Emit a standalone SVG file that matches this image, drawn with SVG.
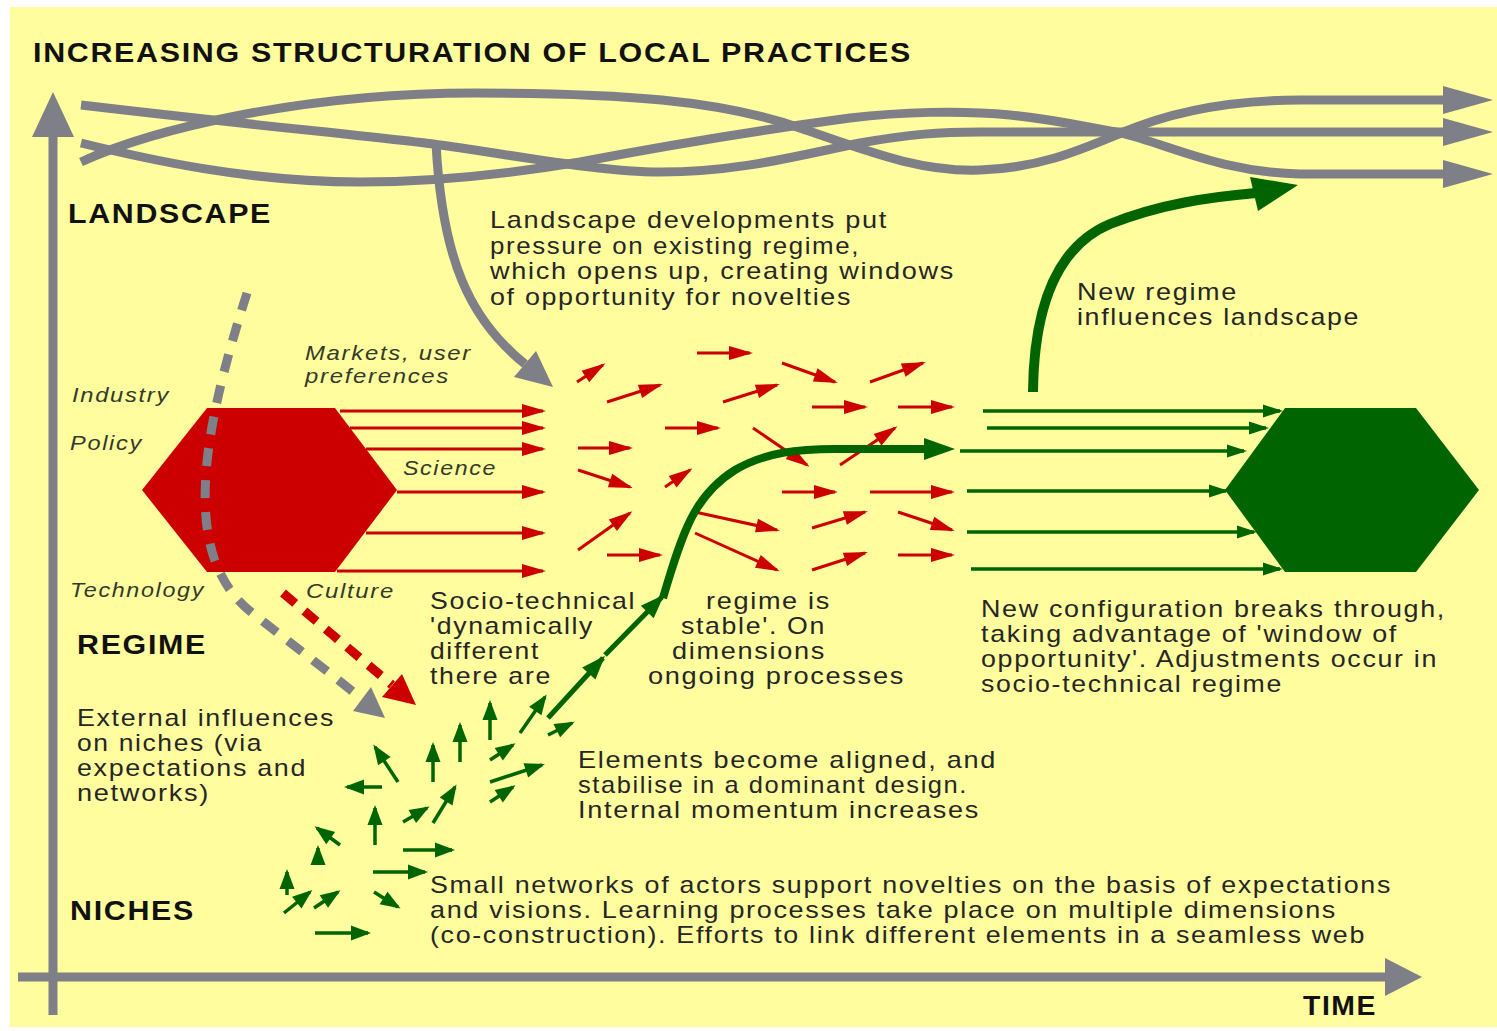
<svg xmlns="http://www.w3.org/2000/svg" width="1497" height="1031" viewBox="0 0 1497 1031">
<defs>
<style>
.t{font-family:"Liberation Sans",Arial,sans-serif;font-size:24px;letter-spacing:1.5px;fill:#262626}
.b{font-family:"Liberation Sans",Arial,sans-serif;font-weight:bold;font-size:27px;letter-spacing:1.5px;fill:#111}
.i{font-family:"Liberation Sans",Arial,sans-serif;font-style:italic;font-size:21px;letter-spacing:1.5px;fill:#333a2a}
.gw{fill:none;stroke:#7f7f88;stroke-width:9}
.gf{fill:#7f7f88}
.ra{stroke:#cc0000;stroke-width:3;fill:none;marker-end:url(#mr)}
.ga{stroke:#006400;stroke-width:3.5;fill:none;marker-end:url(#mg)}
.gh{stroke:#006400;stroke-width:3.5;fill:none;marker-end:url(#mgh)}
.gt{stroke:#006400;stroke-width:5;fill:none;marker-end:url(#mgt)}
</style>
<marker id="mr" markerUnits="userSpaceOnUse" markerWidth="24" markerHeight="14" refX="21" refY="7" orient="auto" overflow="visible"><path d="M0,0 L24,7 L0,14 z" fill="#cc0000"/></marker>
<marker id="mg" markerUnits="userSpaceOnUse" markerWidth="20" markerHeight="15" refX="17" refY="7.5" orient="auto" overflow="visible"><path d="M0,0 L20,7.5 L0,15 z" fill="#006400"/></marker>
<marker id="mgh" markerUnits="userSpaceOnUse" markerWidth="20" markerHeight="13" refX="17" refY="6.5" orient="auto" overflow="visible"><path d="M0,0 L20,6.5 L0,13 z" fill="#006400"/></marker>
<marker id="mgt" markerUnits="userSpaceOnUse" markerWidth="24" markerHeight="18" refX="21" refY="9" orient="auto" overflow="visible"><path d="M0,0 L24,9 L0,18 z" fill="#006400"/></marker>
</defs>

<rect x="0" y="0" width="1497" height="1031" fill="#ffffff"/>
<rect x="10" y="7" width="1487" height="1020" fill="#fffd9e"/>

<g id="axes">
<line x1="53" y1="1015" x2="53" y2="130" stroke="#7f7f88" stroke-width="9"/>
<polygon class="gf" points="53,92 32,137 74,137"/>
<line x1="18" y1="977" x2="1390" y2="977" stroke="#7f7f88" stroke-width="9"/>
<polygon class="gf" points="1422,977 1385,958 1385,996"/>
</g>

<g id="landscape-waves">
<path class="gw" d="M81,162 C150,130 300,93 475,93 C620,93 720,100 800,128 C870,152 920,172 980,170 C1040,168 1080,150 1121,133 C1170,112 1230,100 1300,100 L1445,100"/>
<path class="gw" d="M81,143 C150,160 250,182 360,182 C440,182 520,172 580,162 C680,143 760,130 850,118 C900,112 960,110 1010,115 C1060,120 1090,128 1121,133 C1170,145 1220,172 1300,174 L1445,174"/>
<path class="gw" d="M81,105 C250,125 380,137 440,145 C520,156 600,172 660,172 C740,172 800,155 860,143 C910,134 940,132 980,132 L1445,132"/>
<polygon class="gf" points="1443,86 1493,100 1443,114"/>
<polygon class="gf" points="1443,118 1493,132 1443,146"/>
<polygon class="gf" points="1443,160 1493,174 1443,188"/>
</g>

<g id="connectors">
<path class="gw" stroke-width="8" d="M436,143 C442,260 470,320 525,364"/>
<polygon class="gf" points="553,387 514,377 536,351"/>

<g id="red-from-regime">
<line class="ra" x1="340" y1="411" x2="543" y2="411"/>
<line class="ra" x1="350" y1="428" x2="543" y2="428"/>
<line class="ra" x1="366" y1="449" x2="543" y2="449"/>
<line class="ra" x1="397" y1="492" x2="543" y2="492"/>
<line class="ra" x1="366" y1="533" x2="543" y2="533"/>
<line class="ra" x1="337" y1="571" x2="543" y2="571"/>
</g>
<g id="red-scattered">
<line class="ra" x1="577" y1="382" x2="603" y2="365"/>
<line class="ra" x1="607" y1="402" x2="660" y2="385"/>
<line class="ra" x1="697" y1="353" x2="750" y2="353"/>
<line class="ra" x1="782" y1="363" x2="835" y2="382"/>
<line class="ra" x1="870" y1="382" x2="923" y2="363"/>
<line class="ra" x1="723" y1="402" x2="777" y2="385"/>
<line class="ra" x1="812" y1="407" x2="865" y2="407"/>
<line class="ra" x1="898" y1="407" x2="952" y2="407"/>
<line class="ra" x1="665" y1="428" x2="718" y2="428"/>
<line class="ra" x1="753" y1="428" x2="807" y2="465"/>
<line class="ra" x1="840" y1="465" x2="895" y2="428"/>
<line class="ra" x1="578" y1="448" x2="630" y2="448"/>
<line class="ra" x1="578" y1="470" x2="630" y2="487"/>
<line class="ra" x1="665" y1="487" x2="690" y2="470"/>
<line class="ra" x1="782" y1="492" x2="835" y2="492"/>
<line class="ra" x1="870" y1="492" x2="952" y2="492"/>
<line class="ra" x1="578" y1="550" x2="630" y2="513"/>
<line class="ra" x1="607" y1="555" x2="660" y2="555"/>
<line class="ra" x1="695" y1="512" x2="777" y2="530"/>
<line class="ra" x1="695" y1="533" x2="777" y2="570"/>
<line class="ra" x1="812" y1="528" x2="865" y2="512"/>
<line class="ra" x1="812" y1="570" x2="865" y2="553"/>
<line class="ra" x1="898" y1="512" x2="952" y2="530"/>
<line class="ra" x1="898" y1="555" x2="952" y2="555"/>
</g>

<g id="green-to-new-regime">
<line class="gh" x1="983" y1="411" x2="1280" y2="411"/>
<line class="gh" x1="987" y1="428" x2="1266" y2="428"/>
<line class="gh" x1="960" y1="451" x2="1244" y2="451"/>
<line class="gh" x1="967" y1="491" x2="1226" y2="491"/>
<line class="gh" x1="967" y1="532" x2="1254" y2="532"/>
<line class="gh" x1="971" y1="569" x2="1280" y2="569"/>
</g>

<g id="green-niche">
<line class="ga" x1="398" y1="782" x2="375" y2="747"/>
<line class="ga" x1="382" y1="787" x2="347" y2="787"/>
<line class="ga" x1="433" y1="782" x2="433" y2="745"/>
<line class="ga" x1="460" y1="762" x2="460" y2="725"/>
<line class="ga" x1="490" y1="740" x2="490" y2="703"/>
<line class="ga" x1="520" y1="733" x2="545" y2="697"/>
<line class="ga" x1="490" y1="760" x2="513" y2="745"/>
<line class="ga" x1="490" y1="782" x2="542" y2="765"/>
<line class="ga" x1="490" y1="802" x2="513" y2="787"/>
<line class="ga" x1="433" y1="823" x2="455" y2="787"/>
<line class="ga" x1="403" y1="822" x2="427" y2="808"/>
<line class="ga" x1="375" y1="845" x2="375" y2="808"/>
<line class="ga" x1="340" y1="845" x2="317" y2="828"/>
<line class="ga" x1="403" y1="850" x2="452" y2="850"/>
<line class="ga" x1="318" y1="864" x2="318" y2="848"/>
<line class="ga" x1="373" y1="872" x2="425" y2="872"/>
<line class="ga" x1="287" y1="895" x2="287" y2="872"/>
<line class="ga" x1="284" y1="913" x2="310" y2="892"/>
<line class="ga" x1="314" y1="908" x2="338" y2="892"/>
<line class="ga" x1="374" y1="892" x2="398" y2="907"/>
<line class="ga" x1="315" y1="933" x2="368" y2="933"/>
<line class="ga" x1="548" y1="735" x2="572" y2="723"/>
</g>

<g id="green-breakthrough">
<line class="gt" x1="548" y1="718" x2="603" y2="658"/>
<line class="gt" x1="605" y1="655" x2="662" y2="597"/>
<path d="M663,598 C683,530 695,495 735,470 C765,452 800,449 835,449 L928,449" fill="none" stroke="#006400" stroke-width="8"/>
<polygon points="924,438 955,449 924,460" fill="#006400"/>
<path d="M1033,392 C1034,300 1060,245 1110,224 C1160,204 1210,197 1256,193" fill="none" stroke="#006400" stroke-width="10"/>
<polygon points="1298,185 1250,177 1258,211" fill="#006400"/>
</g>
</g>

<g id="regime-hexagon">
<polygon points="142,490 207,408 335,408 397,490 335,572 207,572" fill="#cc0000"/>
</g>
<g id="new-regime-hexagon">
<polygon points="1225,490 1285,408 1416,408 1479,490 1416,572 1285,572" fill="#006400"/>
</g>

<g id="external-influences">
<path d="M247,293 C200,440 180,560 255,615 C290,643 320,665 362,699" fill="none" stroke="#7f7f88" stroke-width="9" stroke-dasharray="18 14"/>
<polygon class="gf" points="385,718 353,711 371,687"/>
<path d="M283,593 L392,685" fill="none" stroke="#cc0000" stroke-width="9" stroke-dasharray="16 12"/>
<polygon points="416,705 382,697 402,674" fill="#cc0000"/>
</g>

<g id="labels">
<text class="b" x="33" y="62" textLength="879" lengthAdjust="spacingAndGlyphs">INCREASING STRUCTURATION OF LOCAL PRACTICES</text>
<text class="b" x="68" y="223" textLength="204" lengthAdjust="spacingAndGlyphs">LANDSCAPE</text>
<text class="b" x="77" y="654" textLength="130" lengthAdjust="spacingAndGlyphs">REGIME</text>
<text class="b" x="70" y="920" textLength="125" lengthAdjust="spacingAndGlyphs">NICHES</text>
<text class="b" x="1303" y="1015" textLength="74" lengthAdjust="spacingAndGlyphs">TIME</text>

<text class="i" x="305" y="360" textLength="167" lengthAdjust="spacingAndGlyphs">Markets, user</text>
<text class="i" x="305" y="383" textLength="145" lengthAdjust="spacingAndGlyphs">preferences</text>
<text class="i" x="72" y="402" textLength="98" lengthAdjust="spacingAndGlyphs">Industry</text>
<text class="i" x="70" y="450" textLength="73" lengthAdjust="spacingAndGlyphs">Policy</text>
<text class="i" x="403" y="475" textLength="94" lengthAdjust="spacingAndGlyphs">Science</text>
<text class="i" x="70" y="597" textLength="135" lengthAdjust="spacingAndGlyphs">Technology</text>
<text class="i" x="306" y="598" textLength="89" lengthAdjust="spacingAndGlyphs">Culture</text>

<text class="t" x="490" y="228" textLength="398" lengthAdjust="spacingAndGlyphs">Landscape developments put</text>
<text class="t" x="490" y="254" textLength="370" lengthAdjust="spacingAndGlyphs">pressure on existing regime,</text>
<text class="t" x="490" y="279" textLength="465" lengthAdjust="spacingAndGlyphs">which opens up, creating windows</text>
<text class="t" x="490" y="305" textLength="362" lengthAdjust="spacingAndGlyphs">of opportunity for novelties</text>

<text class="t" x="1077" y="300" textLength="161" lengthAdjust="spacingAndGlyphs">New regime</text>
<text class="t" x="1077" y="325" textLength="283" lengthAdjust="spacingAndGlyphs">influences landscape</text>

<text class="t" x="430" y="609" textLength="206" lengthAdjust="spacingAndGlyphs">Socio-technical</text>
<text class="t" x="430" y="634" textLength="164" lengthAdjust="spacingAndGlyphs">'dynamically</text>
<text class="t" x="430" y="659" textLength="110" lengthAdjust="spacingAndGlyphs">different</text>
<text class="t" x="430" y="684" textLength="122" lengthAdjust="spacingAndGlyphs">there are</text>

<text class="t" x="706" y="609" textLength="125" lengthAdjust="spacingAndGlyphs">regime is</text>
<text class="t" x="681" y="634" textLength="145" lengthAdjust="spacingAndGlyphs">stable'. On</text>
<text class="t" x="672" y="659" textLength="154" lengthAdjust="spacingAndGlyphs">dimensions</text>
<text class="t" x="648" y="684" textLength="257" lengthAdjust="spacingAndGlyphs">ongoing processes</text>

<text class="t" x="981" y="617" textLength="465" lengthAdjust="spacingAndGlyphs">New configuration breaks through,</text>
<text class="t" x="981" y="642" textLength="417" lengthAdjust="spacingAndGlyphs">taking advantage of 'window of</text>
<text class="t" x="981" y="667" textLength="457" lengthAdjust="spacingAndGlyphs">opportunity'. Adjustments occur in</text>
<text class="t" x="981" y="692" textLength="302" lengthAdjust="spacingAndGlyphs">socio-technical regime</text>

<text class="t" x="77" y="726" textLength="258" lengthAdjust="spacingAndGlyphs">External influences</text>
<text class="t" x="77" y="751" textLength="186" lengthAdjust="spacingAndGlyphs">on niches (via</text>
<text class="t" x="77" y="776" textLength="230" lengthAdjust="spacingAndGlyphs">expectations and</text>
<text class="t" x="77" y="801" textLength="133" lengthAdjust="spacingAndGlyphs">networks)</text>

<text class="t" x="578" y="768" textLength="419" lengthAdjust="spacingAndGlyphs">Elements become aligned, and</text>
<text class="t" x="578" y="793" textLength="390" lengthAdjust="spacingAndGlyphs">stabilise in a dominant design.</text>
<text class="t" x="578" y="818" textLength="402" lengthAdjust="spacingAndGlyphs">Internal momentum increases</text>

<text class="t" x="430" y="893" textLength="962" lengthAdjust="spacingAndGlyphs">Small networks of actors support novelties on the basis of expectations</text>
<text class="t" x="430" y="918" textLength="907" lengthAdjust="spacingAndGlyphs">and visions. Learning processes take place on multiple dimensions</text>
<text class="t" x="430" y="943" textLength="936" lengthAdjust="spacingAndGlyphs">(co-construction). Efforts to link different elements in a seamless web</text>
</g>
</svg>
